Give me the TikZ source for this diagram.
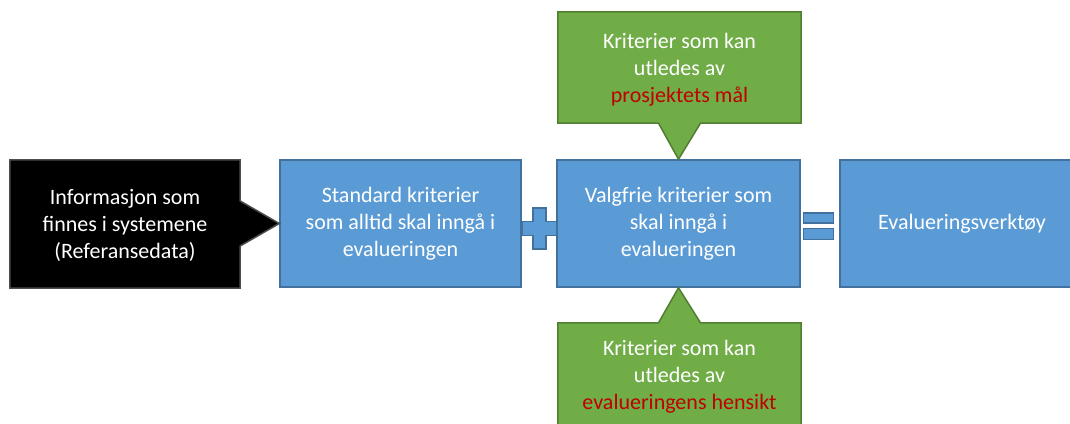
\documentclass[tikz,border=0pt]{standalone}
\usepackage{fontspec}
\setmainfont{Carlito}
\usetikzlibrary{calc}
\definecolor{boxblue}{HTML}{5B9BD5}
\definecolor{blueedge}{HTML}{41719C}
\definecolor{boxgreen}{HTML}{70AD47}
\definecolor{greenedge}{HTML}{507E32}
\definecolor{accentred}{HTML}{C00000}
\tikzset{
  txt/.style={text=white, align=center, font=\fontsize{22}{27}\selectfont},
  bluebox/.style={txt, rectangle, fill=boxblue, draw=blueedge, line width=1.5pt, minimum height=127pt},
  blackbox/.style={txt, rectangle, fill=black, minimum width=230pt, minimum height=128pt},
  greenbox/.style={txt, rectangle, fill=boxgreen, minimum width=243pt},
  blackedge/.style={fill=black, draw=black!70, line width=1.5pt, line join=miter},
  greenshape/.style={fill=boxgreen, draw=greenedge, line width=1.5pt, line join=miter},
  sign/.style={fill=boxblue, draw=blueedge, line width=1.5pt},
}
\begin{document}
\begin{tikzpicture}[x=1pt, y=-1pt]
\useasboundingbox (0,0) rectangle (1070,423);
\clip (0,0) rectangle (1070,423);

% process boxes
\node[bluebox, minimum width=241pt] (std) at (400.5,223.5) {Standard kriterier\\som alltid skal inngå i\\evalueringen};
\node[bluebox, minimum width=243pt] (opt) at (678.5,223.5) {Valgfrie kriterier som\\skal inngå i\\evalueringen};
\node[bluebox, minimum width=244pt] (tool) at (962,223.5) {Evalueringsverktøy};

% black callout pointing at the standard criteria
\node[blackbox] (info) at (125,224) {};
\draw[blackedge] (info.north west) -- (info.north east) -- ($(info.east)+(0,-23)$)
  -- (std.west) -- ($(info.east)+(0,22)$) -- (info.south east) -- (info.south west) -- cycle;
\node[txt] (infotxt) at (125,225) {Informasjon som\\finnes i systemene\\(Referansedata)};

% green callout above, pointing down
\node[greenbox, minimum height=111pt] (goal) at (679.5,67.5) {};
\draw[greenshape] (goal.north west) -- (goal.north east) -- (goal.south east)
  -- ($(goal.south)+(21,0)$) -- (opt.north) -- ($(goal.south)+(-21,0)$)
  -- (goal.south west) -- cycle;
\node[txt] (goaltxt) at (679.5,70) {Kriterier som kan\\utledes av\\\textcolor{accentred}{prosjektets mål}};

% green callout below, pointing up
\node[greenbox, minimum height=117pt] (aim) at (679.5,381.5) {};
\draw[greenshape] (aim.south west) -- (aim.north west) -- ($(aim.north)+(-21,0)$)
  -- (opt.south) -- ($(aim.north)+(21,0)$) -- (aim.north east) -- (aim.south east) -- cycle;
\node[txt] (aimtxt) at (679.5,377) {Kriterier som kan\\utledes av\\\textcolor{accentred}{evalueringens hensikt}};

% plus sign
\coordinate (plus) at (539.5,228.5);
\draw[sign] ($(plus)+(-6.5,-20.5)$) -- ($(plus)+(6.5,-20.5)$) -- ($(plus)+(6.5,-7)$)
  -- ($(plus)+(17,-7)$) -- ($(plus)+(17,7)$) -- ($(plus)+(6.5,7)$)
  -- ($(plus)+(6.5,20.5)$) -- ($(plus)+(-6.5,20.5)$) -- ($(plus)+(-6.5,7)$)
  -- ($(plus)+(-17,7)$) -- ($(plus)+(-17,-7)$) -- ($(plus)+(-6.5,-7)$) -- cycle;

% equals sign
\draw[sign] (803.5,213) rectangle (833.5,223);
\draw[sign] (803.5,228.5) rectangle (833.5,239.5);
\end{tikzpicture}
\end{document}
